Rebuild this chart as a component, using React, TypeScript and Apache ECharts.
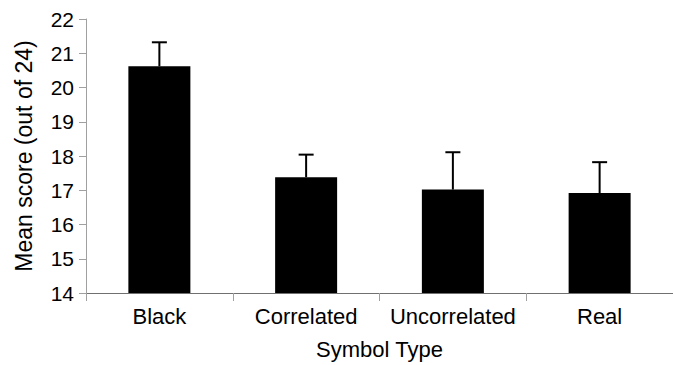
import React, { useEffect, useRef } from "react";
import * as echarts from "echarts";

const categories = ["Black", "Correlated", "Uncorrelated", "Real"];
const meanScores = [20.62, 17.38, 17.02, 16.92];
const upperErrors = [21.32, 18.04, 18.11, 17.82];
const yTicks = { min: 14, max: 22, interval: 1 };

const FONT = "'Liberation Sans', Arial, sans-serif";

export default function App() {
  const ref = useRef<HTMLDivElement>(null);
  useEffect(() => {
    if (!ref.current) return;
    const chart = echarts.init(ref.current, undefined, { renderer: "svg" });
    const errData = categories.map((c, i) => [i, meanScores[i], upperErrors[i]]);
    chart.setOption({
      animation: false,
      backgroundColor: "#ffffff",
      grid: { left: 86, top: 19, width: 596, height: 274, containLabel: false },
      xAxis: {
        type: "category",
        data: categories,
        boundaryGap: true,
        name: "Symbol Type",
        nameLocation: "middle",
        nameGap: 45,
        nameTextStyle: { fontFamily: FONT, fontSize: 22, color: "#000" },
        axisLine: { lineStyle: { color: "#707070", width: 1 } },
        axisTick: { show: true, length: 8, lineStyle: { color: "#a0a0a0" } },
        axisLabel: {
          fontFamily: FONT,
          fontSize: 22,
          color: "#000",
          margin: 12,
          interval: 0,
          hideOverlap: false,
        },
      },
      yAxis: {
        type: "value",
        min: yTicks.min,
        max: yTicks.max,
        interval: yTicks.interval,
        name: "Mean score (out of 24)",
        nameLocation: "middle",
        nameGap: 51,
        nameTextStyle: { fontFamily: FONT, fontSize: 23, color: "#000" },
        axisLine: { show: true, lineStyle: { color: "#a0a0a0", width: 1 } },
        axisTick: { show: true, length: 7, lineStyle: { color: "#a0a0a0" } },
        axisLabel: { fontFamily: FONT, fontSize: 21, color: "#000", margin: 12 },
        splitLine: { show: false },
      },
      series: [
        {
          type: "bar",
          data: meanScores,
          barWidth: 62,
          itemStyle: { color: "#000" },
        },
        {
          type: "custom",
          data: errData,
          z: 10,
          renderItem: (params: any, api: any) => {
            const x = api.value(0);
            const lo = api.coord([x, api.value(1)]);
            const hi = api.coord([x, api.value(2)]);
            const half = 7.5;
            return {
              type: "group",
              children: [
                {
                  type: "line",
                  shape: { x1: lo[0], y1: lo[1], x2: hi[0], y2: hi[1] },
                  style: { stroke: "#000", lineWidth: 2 },
                },
                {
                  type: "line",
                  shape: { x1: hi[0] - half, y1: hi[1], x2: hi[0] + half, y2: hi[1] },
                  style: { stroke: "#000", lineWidth: 2 },
                },
              ],
            };
          },
        },
      ],
    });
    return () => chart.dispose();
  }, []);
  return (
    <div
      ref={ref}
      style={{ position: "fixed", left: 0, top: 0, width: 673, height: 365, background: "#fff" }}
    />
  );
}
